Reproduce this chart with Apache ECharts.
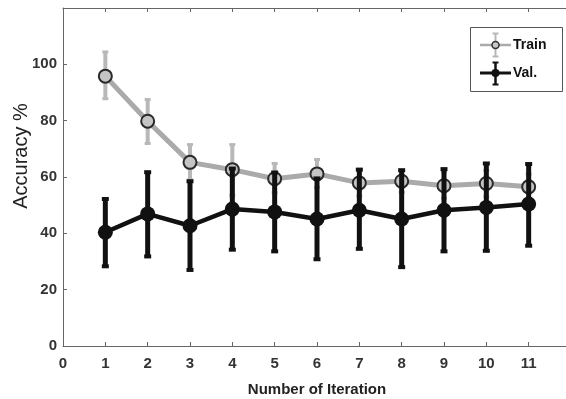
<!DOCTYPE html>
<html>
<head>
<meta charset="utf-8">
<script src="https://cdn.jsdelivr.net/npm/echarts@6/dist/echarts.min.js"></script>
<style>
html,body{margin:0;padding:0;background:#fff;}
#chart{width:566px;height:399px;}
</style>
</head>
<body>
<div id="chart"></div>
<script>
var iterations = [1, 2, 3, 4, 5, 6, 7, 8, 9, 10, 11];
var trainMean = [95.8, 79.8, 65.2, 62.6, 59.4, 61.1, 57.9, 58.5, 56.9, 57.7, 56.5];
var trainLow  = [87.8, 71.9, 59.0, 53.5, 54.4, 56.3, 53.2, 54.5, 52.5, 53.0, 52.0];
var trainHigh = [104.4, 87.5, 71.5, 71.5, 64.8, 66.2, 62.8, 62.5, 61.8, 62.3, 61.0];
var valMean = [40.4, 46.9, 42.7, 48.6, 47.6, 45.1, 48.2, 45.1, 48.2, 49.2, 50.4];
var valLow  = [28.3, 31.8, 27.0, 34.2, 33.6, 30.8, 34.5, 28.0, 33.6, 33.8, 35.6];
var valHigh = [52.2, 61.7, 58.5, 63.0, 61.6, 59.5, 62.6, 62.4, 62.8, 64.8, 64.6];
var xTicks = [0, 1, 2, 3, 4, 5, 6, 7, 8, 9, 10, 11];
var yTicks = [0, 20, 40, 60, 80, 100];
var seriesNames = ['Train', 'Val.'];
var axisTitles = ['Number of Iteration', 'Accuracy %'];

var FONT = "'Liberation Sans', Arial, Helvetica, sans-serif";
var TRAIN_COLOR = '#aaaaaa';
var TRAIN_ERR = '#b8b8b8';
var VAL_COLOR = '#111111';

function pairs(xs, ys) { return xs.map(function (x, i) { return [x, ys[i]]; }); }
function triples(xs, lo, hi) { return xs.map(function (x, i) { return [x, lo[i], hi[i]]; }); }

function errRender(color, lw, capW, capH) {
  return function (params, api) {
    var x = api.value(0);
    var pLo = api.coord([x, api.value(1)]);
    var pHi = api.coord([x, api.value(2)]);
    return {
      type: 'group',
      children: [
        { type: 'line', shape: { x1: pLo[0], y1: pLo[1], x2: pHi[0], y2: pHi[1] },
          style: { stroke: color, lineWidth: lw } },
        { type: 'rect', shape: { x: pHi[0] - capW / 2, y: pHi[1] - capH / 2, width: capW, height: capH },
          style: { fill: color } },
        { type: 'rect', shape: { x: pLo[0] - capW / 2, y: pLo[1] - capH / 2, width: capW, height: capH },
          style: { fill: color } }
      ]
    };
  };
}

var chart = echarts.init(document.getElementById('chart'), null, { renderer: 'canvas' });

var axisLineStyle = { color: '#666666', width: 1 };
var labelStyle = { color: '#333333', fontSize: 15, fontWeight: 'bold', fontFamily: FONT };

// legend (drawn as graphics)
var lgX = 470, lgY = 27, lgW = 92, lgH = 64;
var legendGraphics = [
  { type: 'rect', shape: { x: lgX + 0.5, y: lgY + 0.5, width: lgW, height: lgH },
    style: { fill: '#ffffff', stroke: '#555555', lineWidth: 1 }, z: 100 },
  // Train
  { type: 'line', shape: { x1: 480, y1: 45, x2: 511, y2: 45 }, style: { stroke: TRAIN_COLOR, lineWidth: 2.5 }, z: 101 },
  { type: 'line', shape: { x1: 495.5, y1: 33, x2: 495.5, y2: 57 }, style: { stroke: TRAIN_ERR, lineWidth: 2 }, z: 101 },
  { type: 'line', shape: { x1: 492.5, y1: 33.5, x2: 498.5, y2: 33.5 }, style: { stroke: TRAIN_ERR, lineWidth: 2 }, z: 101 },
  { type: 'line', shape: { x1: 492.5, y1: 56.5, x2: 498.5, y2: 56.5 }, style: { stroke: TRAIN_ERR, lineWidth: 2 }, z: 101 },
  { type: 'circle', shape: { cx: 495.5, cy: 45, r: 3.5 }, style: { fill: '#c8c8c8', stroke: '#333333', lineWidth: 1.5 }, z: 102 },
  { type: 'text', x: 513, y: 45, style: { text: seriesNames[0], fill: '#111111', font: 'bold 14px ' + FONT, verticalAlign: 'middle', align: 'left' }, z: 102 },
  // Val
  { type: 'line', shape: { x1: 480, y1: 73, x2: 511, y2: 73 }, style: { stroke: VAL_COLOR, lineWidth: 3 }, z: 101 },
  { type: 'line', shape: { x1: 495.5, y1: 62, x2: 495.5, y2: 85 }, style: { stroke: VAL_COLOR, lineWidth: 2.5 }, z: 101 },
  { type: 'line', shape: { x1: 492.5, y1: 62.5, x2: 498.5, y2: 62.5 }, style: { stroke: VAL_COLOR, lineWidth: 2 }, z: 101 },
  { type: 'line', shape: { x1: 492.5, y1: 84.5, x2: 498.5, y2: 84.5 }, style: { stroke: VAL_COLOR, lineWidth: 2 }, z: 101 },
  { type: 'circle', shape: { cx: 495.5, cy: 73, r: 4 }, style: { fill: VAL_COLOR }, z: 102 },
  { type: 'text', x: 513, y: 73, style: { text: seriesNames[1], fill: '#111111', font: 'bold 14px ' + FONT, verticalAlign: 'middle', align: 'left' }, z: 102 }
];

var option = {
  backgroundColor: '#ffffff',
  animation: false,
  textStyle: { fontFamily: FONT },
  grid: { left: 63, right: -5, top: 8, bottom: 53, containLabel: false, outerBoundsMode: 'none' },
  xAxis: [
    {
      type: 'value', min: 0, max: 12, interval: 1, position: 'bottom',
      name: axisTitles[0], nameLocation: 'middle', nameGap: 36,
      nameTextStyle: { color: '#222222', fontSize: 15, fontWeight: 'bold', fontFamily: FONT },
      axisLine: { show: true, onZero: false, lineStyle: axisLineStyle },
      axisTick: { show: true, inside: true, length: 4, lineStyle: axisLineStyle },
      axisLabel: { margin: 10, formatter: function (v) { return xTicks.indexOf(v) >= 0 ? String(v) : ''; }, color: labelStyle.color, fontSize: labelStyle.fontSize, fontWeight: labelStyle.fontWeight, fontFamily: FONT },
      splitLine: { show: false }
    },
    {
      type: 'value', min: 0, max: 12, interval: 1, position: 'top',
      axisLine: { show: true, onZero: false, lineStyle: axisLineStyle },
      axisTick: { show: true, inside: true, length: 4, lineStyle: axisLineStyle },
      axisLabel: { show: false },
      splitLine: { show: false }
    }
  ],
  yAxis: [
    {
      type: 'value', min: 0, max: 120, interval: 20, position: 'left',
      name: axisTitles[1], nameLocation: 'middle', nameGap: 32, nameRotate: 90, nameMoveOverlap: false,
      nameTextStyle: { color: '#222222', fontSize: 20, fontFamily: FONT, padding: [0, 0, 0, 42] },
      axisLine: { show: true, onZero: false, lineStyle: axisLineStyle },
      axisTick: { show: true, inside: true, length: 4, lineStyle: axisLineStyle },
      axisLabel: { margin: 6, formatter: function (v) { return yTicks.indexOf(v) >= 0 ? String(v) : ''; }, color: labelStyle.color, fontSize: labelStyle.fontSize, fontWeight: labelStyle.fontWeight, fontFamily: FONT },
      splitLine: { show: false }
    },
    {
      type: 'value', min: 0, max: 120, interval: 20, position: 'right',
      axisLine: { show: true, onZero: false, lineStyle: axisLineStyle },
      axisTick: { show: true, inside: true, length: 4, lineStyle: axisLineStyle },
      axisLabel: { show: false },
      splitLine: { show: false }
    }
  ],
  graphic: legendGraphics,
  series: [
    {
      name: seriesNames[0] + ' err', type: 'custom', xAxisIndex: 0, yAxisIndex: 0,
      renderItem: errRender(TRAIN_ERR, 4, 6, 3),
      encode: { x: 0, y: [1, 2] },
      data: triples(iterations, trainLow, trainHigh), z: 2, silent: true
    },
    {
      name: seriesNames[0], type: 'line', xAxisIndex: 0, yAxisIndex: 0,
      data: pairs(iterations, trainMean),
      lineStyle: { color: TRAIN_COLOR, width: 5 },
      symbol: 'circle', symbolSize: 13,
      itemStyle: { color: '#c4c4c4', borderColor: '#2a2a2a', borderWidth: 2 },
      z: 3, silent: true
    },
    {
      name: seriesNames[1] + ' err', type: 'custom', xAxisIndex: 0, yAxisIndex: 0,
      renderItem: errRender(VAL_COLOR, 5, 7, 4),
      encode: { x: 0, y: [1, 2] },
      data: triples(iterations, valLow, valHigh), z: 4, silent: true
    },
    {
      name: seriesNames[1], type: 'line', xAxisIndex: 0, yAxisIndex: 0,
      data: pairs(iterations, valMean),
      lineStyle: { color: VAL_COLOR, width: 4.5 },
      symbol: 'circle', symbolSize: 15,
      itemStyle: { color: VAL_COLOR, borderColor: VAL_COLOR, borderWidth: 0 },
      z: 5, silent: true
    }
  ]
};
chart.setOption(option);
</script>
</body>
</html>
